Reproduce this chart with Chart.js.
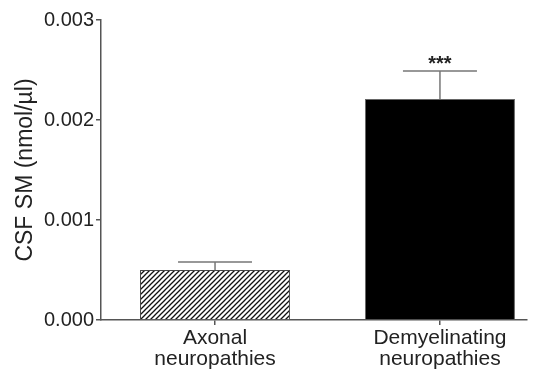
<!DOCTYPE html>
<html>
<head>
<meta charset="utf-8">
<script src="https://cdn.jsdelivr.net/npm/chart.js@4.4.0/dist/chart.umd.min.js"></script>
<style>
  html, body { margin: 0; padding: 0; background: #fff; }
  #wrap { width: 547px; height: 374px; }
</style>
</head>
<body>
<div id="wrap"><canvas id="chart"></canvas></div>
<script>
"use strict";

// data
var groups = [["Axonal", "neuropathies"], ["Demyelinating", "neuropathies"]];
var groupPos = [1, 2];
var meanValues = [0.0005, 0.00221];
var semValues = [0.00008, 0.00028];
var significance = ["", "***"];
var yTicks = [0, 0.001, 0.002, 0.003];

var FONT = "'Liberation Sans', Arial, sans-serif";
var INK = "#222";
var AXIS = "#555";

function hatchPattern() {
  var c = document.createElement("canvas");
  var s = 5;
  c.width = s; c.height = s;
  var g = c.getContext("2d");
  g.fillStyle = "#fff";
  g.fillRect(0, 0, s, s);
  g.strokeStyle = "#111";
  g.lineWidth = 1.3;
  g.beginPath();
  g.moveTo(-1, s + 1); g.lineTo(s + 1, -1);
  g.moveTo(-1, 1); g.lineTo(1, -1);
  g.moveTo(s - 1, s + 1); g.lineTo(s + 1, s - 1);
  g.stroke();
  return g.createPattern(c, "repeat");
}

var errorBars = {
  id: "errorBars",
  afterDatasetsDraw: function (chart) {
    var xs = chart.scales.x, ys = chart.scales.y, ctx = chart.ctx;
    ctx.save();
    for (var i = 0; i < meanValues.length; i++) {
      var x = xs.getPixelForValue(groupPos[i]);
      var yb = ys.getPixelForValue(meanValues[i]);
      var yt = ys.getPixelForValue(meanValues[i] + semValues[i]);
      ctx.strokeStyle = "#777";
      ctx.lineWidth = 1.5;
      ctx.beginPath();
      ctx.moveTo(x, yb); ctx.lineTo(x, yt);
      ctx.moveTo(x - 37, yt); ctx.lineTo(x + 37, yt);
      ctx.stroke();
      if (significance[i]) {
        ctx.fillStyle = INK;
        ctx.font = "bold 20px " + FONT;
        ctx.textAlign = "center";
        ctx.textBaseline = "alphabetic";
        ctx.fillText(significance[i], x, yt - 1);
      }
    }
    ctx.restore();
  }
};

var points = groupPos.map(function (p, i) { return { x: p, y: meanValues[i] }; });

new Chart(document.getElementById("chart"), {
  type: "bar",
  data: {
    datasets: [{
      data: points,
      backgroundColor: [hatchPattern(), "#000"],
      borderColor: ["#444", "#666"],
      borderWidth: 1,
      barPercentage: 0.667,
      categoryPercentage: 1
    }]
  },
  options: {
    responsive: true,
    maintainAspectRatio: false,
    animation: false,
    layout: { padding: { top: 20, right: 20, left: 0, bottom: 0 } },
    plugins: { legend: { display: false }, tooltip: { enabled: false } },
    scales: {
      x: {
        type: "linear",
        offset: false,
        min: 0.493,
        max: 2.387,
        afterBuildTicks: function (scale) {
          scale.ticks = groupPos.map(function (v) { return { value: v }; });
        },
        afterFit: function (scale) { scale.height = 54; },
        grid: { offset: false, drawOnChartArea: false, color: AXIS, tickLength: 5, lineWidth: 1.5 },
        border: { display: true, color: AXIS, width: 1.5 },
        ticks: {
          color: INK,
          font: { family: FONT, size: 21, lineHeight: 1.0 },
          padding: 3,
          maxRotation: 0,
          autoSkip: false,
          callback: function (v, i) { return groups[i]; }
        }
      },
      y: {
        min: 0,
        max: 0.003,
        afterBuildTicks: function (scale) {
          scale.ticks = yTicks.map(function (v) { return { value: v }; });
        },
        afterFit: function (scale) { scale.width = 101; },
        grid: { drawOnChartArea: false, color: AXIS, tickLength: 5, lineWidth: 1.5 },
        border: { display: true, color: AXIS, width: 1.5 },
        ticks: {
          color: INK,
          font: { family: FONT, size: 20 },
          padding: 2,
          callback: function (v) { return v.toFixed(3); }
        },
        title: {
          display: true,
          text: "CSF SM (nmol/µl)",
          color: INK,
          font: { family: FONT, size: 23 },
          padding: { top: 12, bottom: 2 }
        }
      }
    }
  },
  plugins: [errorBars]
});
</script>
</body>
</html>
